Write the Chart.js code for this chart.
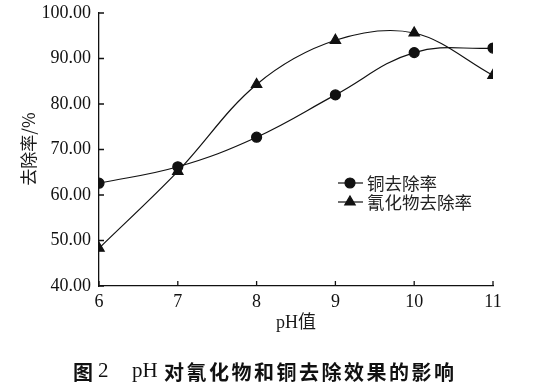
<!DOCTYPE html>
<html><head><meta charset="utf-8">
<script src="https://cdn.jsdelivr.net/npm/chart.js@4/dist/chart.umd.min.js"></script>
<style>html,body{margin:0;padding:0;background:#fff}#wrap{width:536px;height:392px}</style>
</head><body><div id="wrap"><canvas id="c" width="536" height="392"></canvas></div>
<script>
const phValues = [6, 7, 8, 9, 10, 11];
const copperRemoval = [62.6, 66.2, 72.7, 82.0, 91.3, 92.3];
const cyanideRemoval = [48.3, 65.2, 84.3, 94.0, 95.6, 86.3];
const seriesNames = ['铜去除率', '氰化物去除率'];
const yTicks = [40, 50, 60, 70, 80, 90, 100];
const xTitle = 'pH值';
const yTitle = '去除率/%';
const captionParts = ['图', '2', 'pH', '对氰化物和铜去除效果的影响'];

const SERIF = '"Liberation Serif", "DejaVu Serif", serif';
const CJK = '"Noto Sans CJK SC", sans-serif';

const innerTicks = {
  id: 'innerTicks',
  afterDraw(chart) {
    const ctx = chart.ctx, a = chart.chartArea;
    const xs = chart.scales.x, ys = chart.scales.y;
    ctx.save();
    ctx.strokeStyle = '#111'; ctx.lineWidth = 1.3;
    ctx.beginPath();
    phValues.forEach(v => { const px = xs.getPixelForValue(v); ctx.moveTo(px, a.bottom); ctx.lineTo(px, a.bottom - 5); });
    yTicks.forEach(v => { const py = ys.getPixelForValue(v); ctx.moveTo(a.left, py); ctx.lineTo(a.left + 5, py); });
    ctx.stroke();
    // axis titles
    ctx.fillStyle = '#1a1a1a'; ctx.textBaseline = 'middle'; ctx.textAlign = 'center';
    ctx.font = '18px "Liberation Serif", "Noto Sans CJK SC", serif';
    ctx.fillText(xTitle, 296, 323);
    ctx.save();
    ctx.translate(29, 149); ctx.rotate(-Math.PI / 2);
    ctx.font = '17px ' + CJK;
    ctx.fillText(yTitle, 0, 0);
    ctx.restore();
    // legend
    const items = [{y: 183, style: 'circle', r: 5}, {y: 202, style: 'triangle', r: 6}];
    items.forEach((it, i) => {
      ctx.strokeStyle = '#111'; ctx.lineWidth = 1.2;
      ctx.beginPath(); ctx.moveTo(338, it.y); ctx.lineTo(363, it.y); ctx.stroke();
      ctx.fillStyle = '#111';
      Chart.helpers.drawPoint(ctx, {pointStyle: it.style, radius: it.r, borderWidth: 1}, 350, it.y);
      ctx.fillStyle = '#222';
      ctx.font = '17.5px ' + CJK;
      ctx.textBaseline = 'middle'; ctx.textAlign = 'left';
      ctx.fillText(seriesNames[i], 367, it.y);
    });
    // caption
    ctx.fillStyle = '#111'; ctx.textBaseline = 'middle'; ctx.textAlign = 'left';
    ctx.font = 'bold 20px ' + CJK;
    ctx.fillText(captionParts[0], 73, 372);
    ctx.font = '21px ' + SERIF;
    ctx.fillText(captionParts[1], 98, 371);
    ctx.fillText(captionParts[2], 132, 371);
    ctx.font = 'bold 20px ' + CJK;
    ctx.letterSpacing = '2.5px';
    ctx.fillText(captionParts[3], 164, 372);
    ctx.restore();
  }
};

const mk = (vals) => vals.map((v, i) => ({x: phValues[i], y: v}));

new Chart(document.getElementById('c'), {
  type: 'line',
  data: {
    datasets: [
      {label: seriesNames[0], data: mk(copperRemoval), borderColor: '#111', backgroundColor: '#111',
       borderWidth: 1.2, pointStyle: 'circle', pointRadius: 5, pointHoverRadius: 5, tension: 0.4},
      {label: seriesNames[1], data: mk(cyanideRemoval), borderColor: '#111', backgroundColor: '#111',
       borderWidth: 1.2, pointStyle: 'triangle', pointRadius: 6, pointHoverRadius: 6, tension: 0.35}
    ]
  },
  options: {
    responsive: false, animation: false, devicePixelRatio: 1,
    layout: {padding: {left: 0, top: 13, right: 43, bottom: 0}},
    plugins: {legend: {display: false}, tooltip: {enabled: false}},
    scales: {
      x: {
        type: 'linear', min: 6, max: 11,
        afterFit(s) { s.height = 106; s.paddingLeft = 0; s.paddingRight = 0; },
        border: {display: true, color: '#111', width: 1.3},
        grid: {display: false, drawTicks: false},
        ticks: {stepSize: 1, color: '#111', padding: 5, font: {family: SERIF, size: 18}}
      },
      y: {
        min: 40, max: 100,
        afterFit(s) { s.width = 99; s.paddingTop = 0; s.paddingBottom = 0; },
        border: {display: true, color: '#111', width: 1.3},
        grid: {display: false, drawTicks: false},
        ticks: {stepSize: 10, color: '#111', padding: 8, font: {family: SERIF, size: 18},
                callback: v => v.toFixed(2)}
      }
    }
  },
  plugins: [innerTicks]
});
</script></body></html>
